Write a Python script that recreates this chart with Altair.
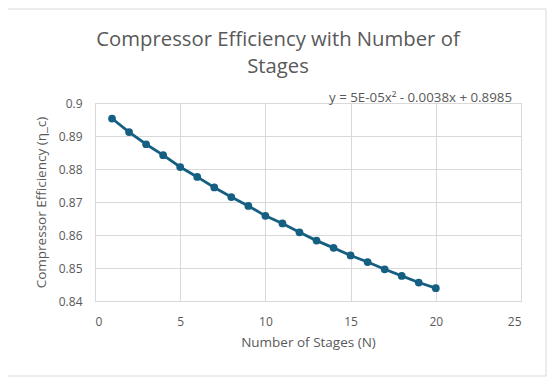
import altair as alt
import pandas as pd

stages = list(range(1, 21))
efficiency = [0.8953, 0.8912, 0.8875, 0.8842, 0.8806, 0.8776, 0.8744, 0.8715,
              0.8688, 0.8658, 0.8635, 0.8608, 0.8583, 0.8561, 0.8538, 0.8518,
              0.8496, 0.8476, 0.8456, 0.8439]
title_lines = ["Compressor Efficiency with Number of", "Stages"]
equation = "y = 5E-05x\u00b2 - 0.0038x + 0.8985"

df = pd.DataFrame({"N": stages, "eff": efficiency})

FONT = "Open Sans"
GRAY = "#595959"
BLUE = "#156082"

x = alt.X("N:Q", title="Number of Stages (N)",
          scale=alt.Scale(domain=[0, 25], nice=False),
          axis=alt.Axis(values=[0, 5, 10, 15, 20, 25], labelOverlap=False))
y = alt.Y("eff:Q", title="Compressor Efficiency (\u03b7_c)",
          scale=alt.Scale(domain=[0.84, 0.9], nice=False, zero=False),
          axis=alt.Axis(values=[0.84, 0.85, 0.86, 0.87, 0.88, 0.89, 0.9],
                        labelOverlap=False,
                        labelExpr="format(datum.value, '.2~f')"))

line = alt.Chart(df).mark_line(color=BLUE, strokeWidth=2.8).encode(x=x, y=y)
pts = alt.Chart(df).mark_point(filled=True, opacity=1, color=BLUE, size=60).encode(x=x, y=y)

frame = alt.Chart(pd.DataFrame({"k": [0]})).mark_rect(
    fill="transparent", stroke="#d9d9d9", strokeWidth=1, clip=False
).encode(x=alt.value(-88), x2=alt.value(451), y=alt.value(-94), y2=alt.value(273))

eq = alt.Chart(pd.DataFrame({"t": [equation]})).mark_text(
    align="right", baseline="alphabetic", font=FONT, fontSize=13.3, color=GRAY, clip=False
).encode(x=alt.value(417), y=alt.value(-1), text="t:N")

title1 = alt.Chart(pd.DataFrame({"t": [title_lines[0]]})).mark_text(
    align="center", baseline="alphabetic", font=FONT, fontSize=20.3, color=GRAY, clip=False
).encode(x=alt.value(183), y=alt.value(-57), text="t:N")
title2 = alt.Chart(pd.DataFrame({"t": [title_lines[1]]})).mark_text(
    align="center", baseline="alphabetic", font=FONT, fontSize=20.3, color=GRAY, clip=False
).encode(x=alt.value(183), y=alt.value(-30), text="t:N")

chart = alt.layer(frame, line, pts, eq, title1, title2).properties(
    width=426, height=198,
    autosize=alt.AutoSizeParams(type="none"),
    padding={"left": 87, "top": 95, "right": 28, "bottom": 76},
).configure_view(stroke="#d9d9d9", strokeWidth=1).configure_axis(
    grid=True, gridColor="#d9d9d9", gridWidth=1, domain=False, ticks=False,
    labelFont=FONT, labelFontSize=12, labelColor=GRAY,
    titleFont=FONT, titleFontSize=13.5, titleColor=GRAY, titleFontWeight="normal",
).configure_axisX(labelPadding=15, titlePadding=8).configure_axisY(
    labelPadding=13, titlePadding=10
)

chart.save("out.html", embed_options={"renderer": "svg", "actions": False})
